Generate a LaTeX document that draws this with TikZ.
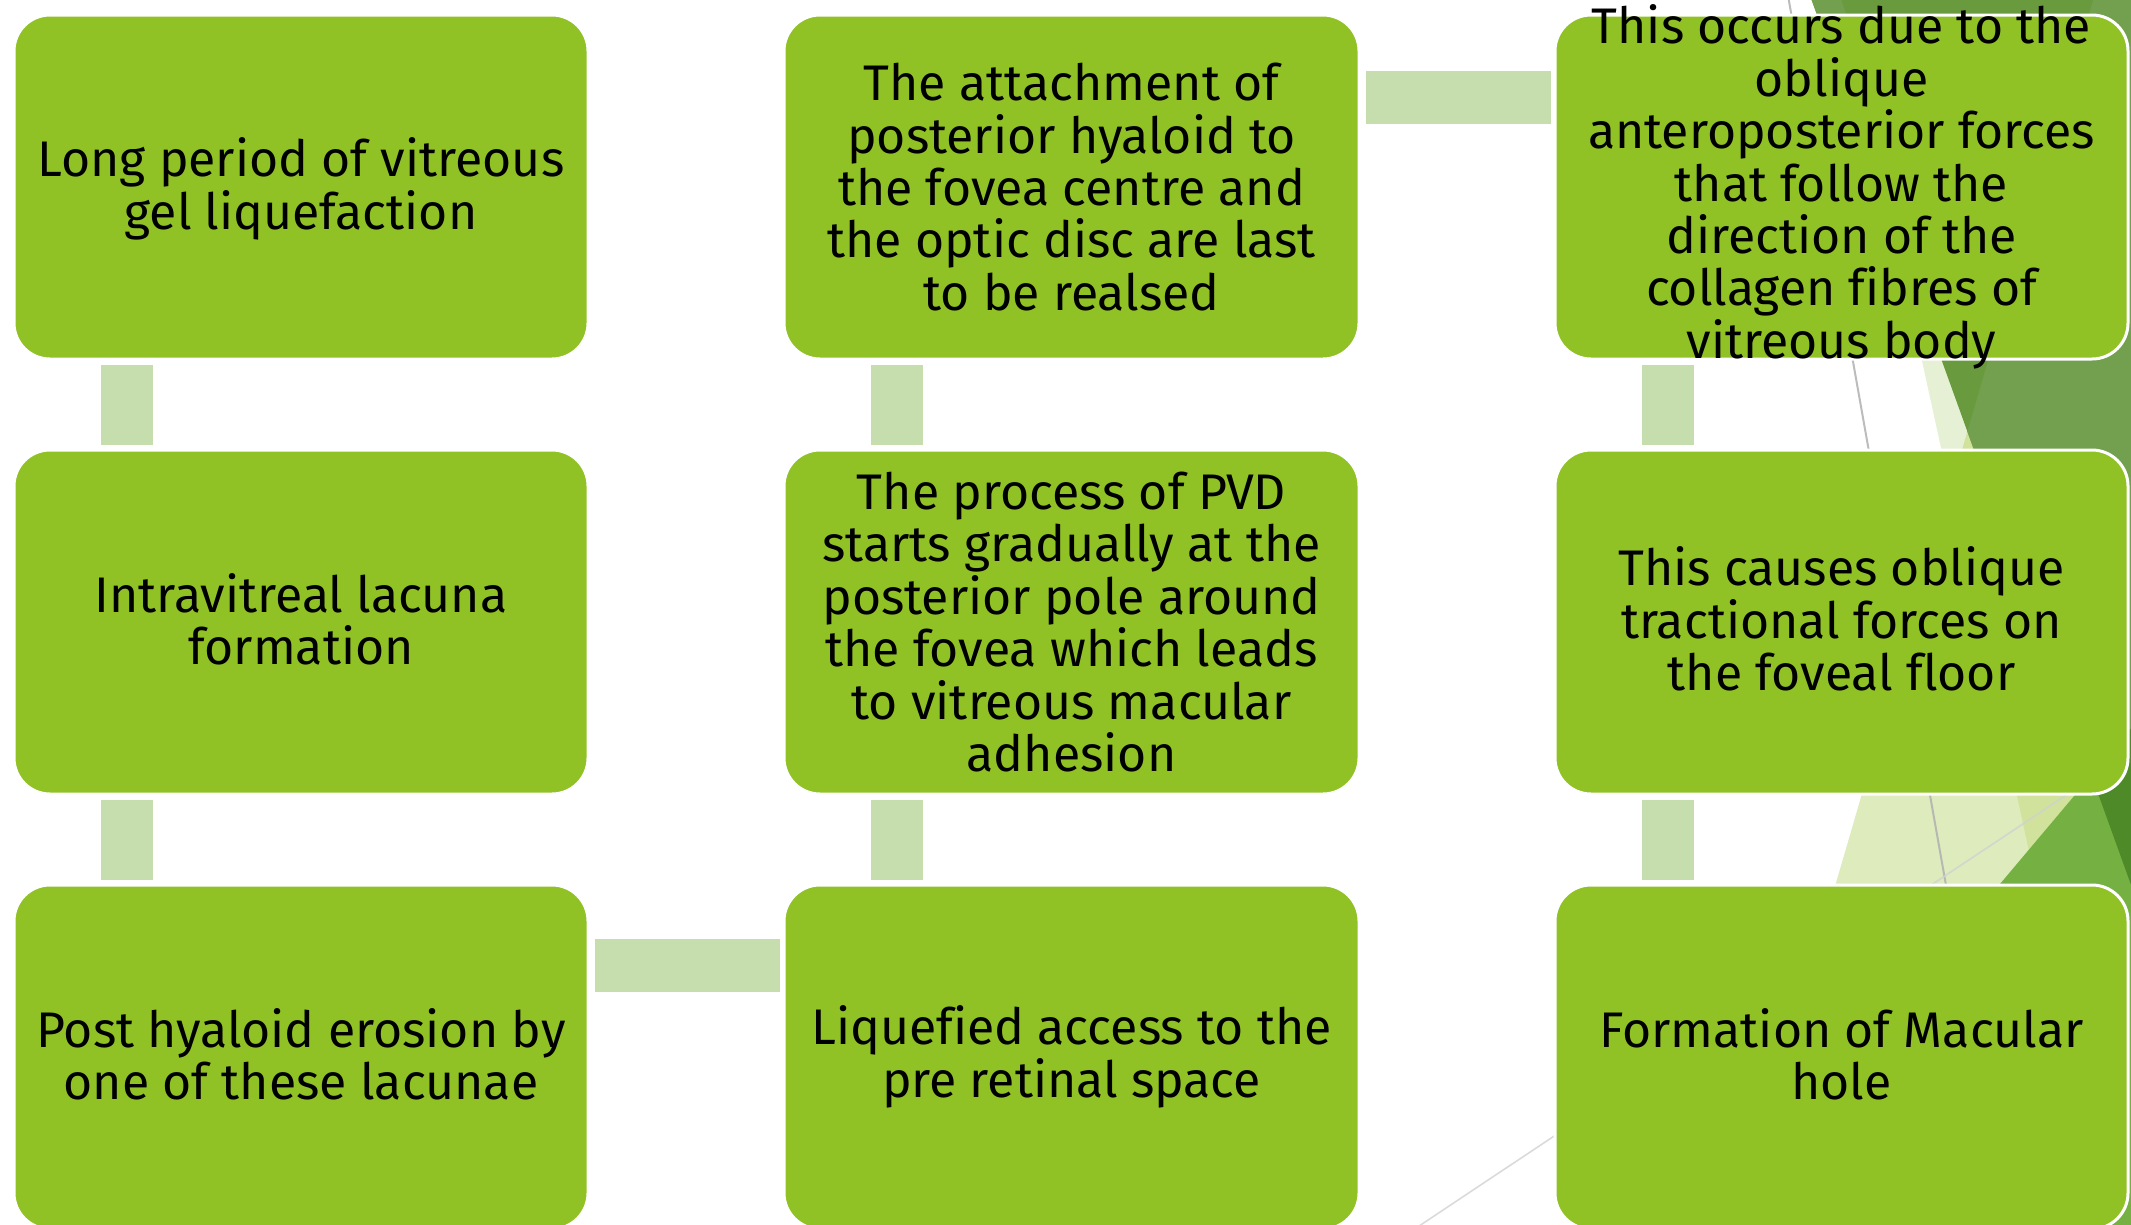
\documentclass[tikz,border=0pt]{standalone}
\usepackage{fontspec}
\setmainfont[Ligatures=NoCommon]{Fira Sans}
\usetikzlibrary{calc}
\definecolor{boxgreen}{HTML}{90C226}
\definecolor{connc}{HTML}{C6DDAE}
\definecolor{ptwo}{HTML}{E6F0D5}
\definecolor{pone}{HTML}{DDEBBD}
\definecolor{ponetwo}{HTML}{D0E29C}
\definecolor{dgreen}{HTML}{699A3E}
\definecolor{dlight}{HTML}{72A04E}
\definecolor{mgreen}{HTML}{75B043}
\definecolor{mdark}{HTML}{4E8A28}
\tikzset{
  box/.style={draw=white, line width=3pt, fill=boxgreen, rounded corners=36pt, inner sep=0pt},
  txt/.style={font=\fontsize{50}{52.4}\selectfont, align=center, inner sep=0pt, text=black},
  conn/.style={fill=connc},
}
\begin{document}
\begin{tikzpicture}[x=1pt,y=-1pt]
\useasboundingbox (0,0) rectangle (2131,1224);
\clip (0,0) rectangle (2131,1224);
% background facets
\fill[ptwo] (1841,-10) -- (2114,1240) -- (2200,1240) -- (2200,-10) -- cycle;
\fill[pone] (2096,-10) -- (1732,1240) -- (2200,1240) -- (2200,-10) -- cycle;
\begin{scope}
  \clip (2096,-10) -- (1732,1240) -- (2200,1240) -- (2200,-10) -- cycle;
  \fill[ponetwo] (1841,-10) -- (2114,1240) -- (2200,1240) -- (2200,-10) -- cycle;
\end{scope}
\draw[color=black!31, line width=2pt, opacity=0.85] (1787,-10) -- (2009,1240);
\draw[color=black!18, line width=1.6pt, opacity=0.8] (2170,726) -- (1398,1240);
\fill[dgreen] (1808,-10) -- (2200,1076) -- (2200,-10) -- cycle;
\begin{scope}
  \clip (2096,-10) -- (1732,1240) -- (2200,1240) -- (2200,-10) -- cycle;
  \fill[dlight] (1808,-10) -- (2200,1076) -- (2200,-10) -- cycle;
\end{scope}
\fill[dlight] (1808,-10) -- (1838,-10) -- (1848,20) -- (1819,20) -- cycle;
\fill[mgreen] (2155,700) -- (1700,1240) -- (2200,1240) -- (2200,700) -- cycle;
\begin{scope}
  \clip (2155,700) -- (1700,1240) -- (2200,1240) -- (2200,700) -- cycle;
  \fill[mdark] (1808,-10) -- (2200,1076) -- (2200,-10) -- cycle;
\end{scope}
% boxes
\node[box, minimum width=574pt, minimum height=344pt] (a1) at (301,187) {};
\node[box, minimum width=574pt, minimum height=344pt] (a2) at (301,622) {};
\node[box, minimum width=574pt, minimum height=344pt] (a3) at (301,1057) {};
\node[box, minimum width=575pt, minimum height=344pt] (b3) at (1071.5,1057) {};
\node[box, minimum width=575pt, minimum height=344pt] (b2) at (1071.5,622) {};
\node[box, minimum width=575pt, minimum height=344pt] (b1) at (1071.5,187) {};
\node[box, minimum width=573pt, minimum height=344pt] (c1) at (1841.5,187) {};
\node[box, minimum width=573pt, minimum height=344pt] (c2) at (1841.5,622) {};
\node[box, minimum width=573pt, minimum height=344pt] (c3) at (1841.5,1057) {};
% connectors
\fill[conn] ($(a1.south west)+(88,4)$) rectangle ($(a2.north west)+(140,-4)$);
\fill[conn] ($(a2.south west)+(88,4)$) rectangle ($(a3.north west)+(140,-4)$);
\fill[conn] ($(a3.north east)+(5,55)$) rectangle ($(b3.north west)+(-3,108)$);
\fill[conn] ($(b3.north west)+(88,-4)$) rectangle ($(b2.south west)+(140,4)$);
\fill[conn] ($(b2.north west)+(88,-4)$) rectangle ($(b1.south west)+(140,4)$);
\fill[conn] ($(b1.north east)+(5,57)$) rectangle ($(c1.north west)+(-3,110)$);
\fill[conn] ($(c1.south west)+(88,4)$) rectangle ($(c2.north west)+(140,-4)$);
\fill[conn] ($(c2.south west)+(88,4)$) rectangle ($(c3.north west)+(140,-4)$);
% texts
\node[txt] (ta1) at ($(a1)+(0,2)$) {Long period of vitreous\\gel liquefaction};
\node[txt] (ta2) at ($(a2)+(0,-3)$) {Intravitreal lacuna\\formation};
\node[txt] (ta3) at ($(a3)+(0,-3)$) {Post hyaloid erosion by\\one of these lacunae};
\node[txt] (tb3) at (b3) {Liquefied access to the\\pre retinal space};
\node[txt] (tb2) at (b2) {The process of PVD\\starts gradually at the\\posterior pole around\\the fovea which leads\\to vitreous macular\\adhesion};
\node[txt] (tb1) at (b1) {The attachment of\\posterior hyaloid to\\the fovea centre and\\the optic disc are last\\to be realsed};
\node[txt] (tc1) at (c1) {This occurs due to the\\oblique\\anteroposterior forces\\that follow the\\direction of the\\collagen fibres of\\vitreous body};
\node[txt] (tc2) at ($(c2)+(0,-3)$) {This causes oblique\\tractional forces on\\the foveal floor};
\node[txt] (tc3) at ($(c3)+(0,-3)$) {Formation of Macular\\hole};
\end{tikzpicture}
\end{document}
